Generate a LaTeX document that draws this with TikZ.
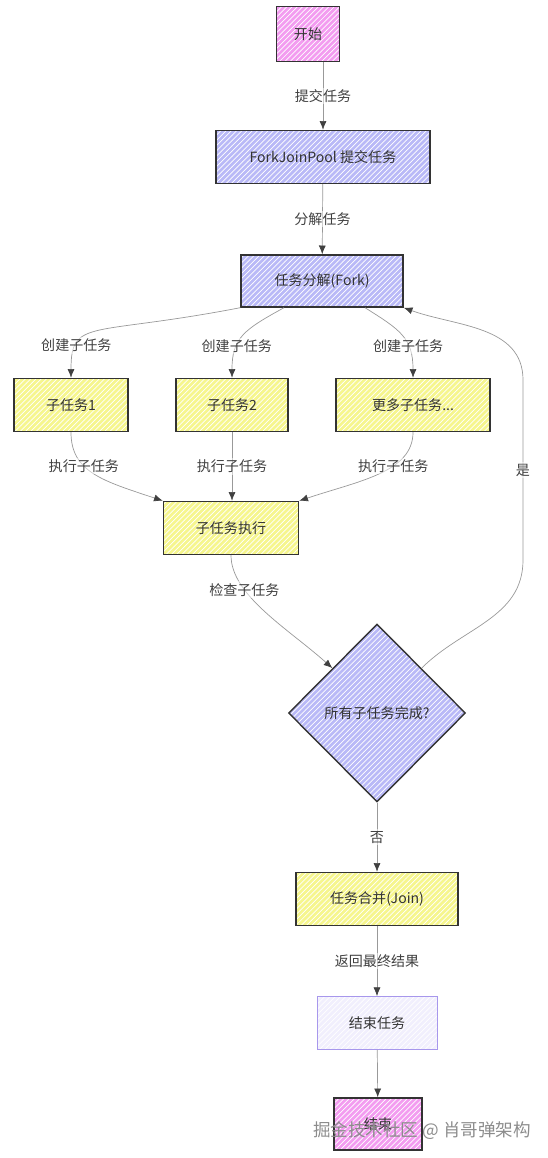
\documentclass[tikz,border=0pt]{standalone}
\usepackage{fontspec}
\setmainfont{Noto Sans CJK SC}
\usepackage{tikz}
\usetikzlibrary{positioning, shapes.geometric, arrows.meta, patterns}

\definecolor{pinkfill}{HTML}{F39CF0}
\definecolor{bluefill}{HTML}{B9B9F7}
\definecolor{yelfill}{HTML}{F6F68E}
\definecolor{palefill}{HTML}{F1EFFD}
\definecolor{paleedge}{HTML}{A797EC}

\begin{document}
\begin{tikzpicture}[
    x=0.02cm, y=-0.02cm,
    base/.style={
        rectangle, draw=black!80, thick, minimum height=1.06cm,
        align=center, font=\fontsize{8}{9.6}\selectfont, text=black!80
    },
    hatch/.style={
        preaction={fill=#1},
        preaction={pattern=north east lines, pattern color=white}
    },
    term/.style={base, hatch=pinkfill},
    pool/.style={base, hatch=bluefill},
    sub/.style={base, hatch=yelfill},
    pale/.style={base, draw=paleedge, thin, hatch=palefill},
    decide/.style={
        diamond, draw=black!80, thick, hatch=bluefill,
        minimum width=3.54cm, minimum height=3.56cm, inner sep=0pt,
        font=\fontsize{8}{9.6}\selectfont, text=black!80
    },
    arr/.style={draw=black!40, -{Latex[length=5pt, width=4pt, color=black!75]}},
    lbl/.style={font=\fontsize{8}{9.6}\selectfont, text=black!75,
        fill=white, fill opacity=0.5, text opacity=1, inner sep=1pt},
    wm/.style={font=\fontsize{10}{12}\selectfont, text=black!45},
]
\useasboundingbox (0,0) rectangle (547,1158);

% Main column
\node[term, minimum width=1.26cm, minimum height=1.1cm] (start) at (308,34) {开始};
\node[pool, minimum width=4.28cm] (submit) at (323,157) {ForkJoinPool 提交任务};
\node[pool, minimum width=3.24cm, minimum height=1.04cm] (fork) at (322,281) {任务分解(Fork)};

% Subtasks
\node[sub, minimum width=2.28cm] (sub1) at (71,405) {子任务1};
\node[sub, minimum width=2.24cm] (sub2) at (232,405) {子任务2};
\node[sub, minimum width=3.08cm] (more) at (413,405) {更多子任务...};
\node[sub, minimum width=2.7cm] (exec) at (231,528) {子任务执行};

% Check, join and end
\node[decide] (check) at (377,713) {所有子任务完成?};
\node[sub, minimum width=3.24cm] (join) at (377,899) {任务合并(Join)};
\node[pale, minimum width=2.4cm] (done) at (377,1023) {结束任务};
\node[term, minimum width=1.76cm, minimum height=1.04cm] (stop) at (378,1124) {结束};

% Submit and split
\draw[arr] (start.south -| submit.north) -- node[lbl] {提交任务} (submit);
\draw[arr] (submit) -- node[lbl] {分解任务} (fork);

% Fan out to subtasks
\draw[arr] (fork.south west) .. controls +(-150,29) and +(0,-60) .. node[lbl, pos=0.75] {创建子任务} (sub1.north);
\draw[arr] ([xshift=-0.76cm]fork.south) .. controls +(-40,22) and +(0,-40) .. node[lbl, pos=0.66] {创建子任务} (sub2.north);
\draw[arr] ([xshift=0.86cm]fork.south) .. controls +(35,22) and +(0,-40) .. node[lbl, pos=0.66] {创建子任务} (more.north);

% Fan in to execution
\draw[arr] (sub1.south) .. controls +(0,40) and +(-60,-20) .. node[lbl, pos=0.37] {执行子任务} (exec.north west);
\draw[arr] (sub2.south) -- node[lbl] {执行子任务} (sub2.south |- exec.north);
\draw[arr] (more.south) .. controls +(0,40) and +(60,-20) .. node[lbl, pos=0.37] {执行子任务} (exec.north east);

% Check and loop back
\draw[arr] (exec.south) .. controls +(0,40) and +(-45,-40) .. node[lbl, pos=0.3] {检查子任务} (check.north west);
\draw[arr] (check.north east) to[out=45, in=-90] (523,560) -- node[lbl] {是} (523,380)
    to[out=90, in=-20] (fork.south east);

% Join and finish
\draw[arr] (check) -- node[lbl] {否} (join);
\draw[arr] (join) -- node[lbl] {返回最终结果} (done);
\draw[arr] (done) -- (stop);

\node[wm] (mark) at (422,1131) {掘金技术社区 @ 肖哥弹架构};

\end{tikzpicture}
\end{document}
